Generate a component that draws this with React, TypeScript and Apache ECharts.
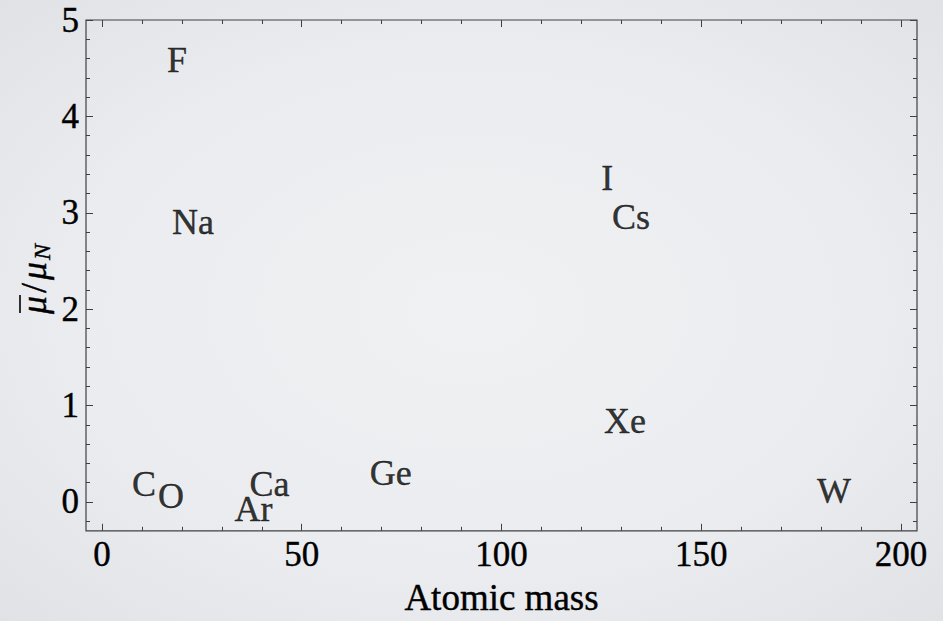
import React, { useEffect, useRef } from "react";
import * as echarts from "echarts";

const elements = ["C", "O", "F", "Na", "Ar", "Ca", "Ge", "I", "Xe", "Cs", "W"];
const atomicMass = [10.5, 17.3, 18.8, 22.8, 37.9, 41.9, 72.3, 126.5, 130.9, 132.4, 183.2];
const muBar = [0.19, 0.06, 4.58, 2.9, -0.07, 0.19, 0.3, 3.36, 0.84, 2.96, 0.11];

const xMajorTicks = [0, 50, 100, 150, 200];
const xMinorTicks = [10, 20, 30, 40, 60, 70, 80, 90, 110, 120, 130, 140, 160, 170, 180, 190];
const yMajorTicks = [0, 1, 2, 3, 4, 5];
const yMinorTicks = [-0.2, 0.2, 0.4, 0.6, 0.8, 1.2, 1.4, 1.6, 1.8, 2.2, 2.4, 2.6, 2.8, 3.2, 3.4, 3.6, 3.8, 4.2, 4.4, 4.6, 4.8];

const X_MIN = -4;
const X_MAX = 204;
const Y_MIN = -0.3;
const Y_MAX = 5;

const FONT = "Liberation Serif, Times New Roman, serif";
const TICK_COLOR = "#404040";
const TEXT_COLOR = "#000";
const TEXT_BORDER = { textBorderColor: "#000", textBorderWidth: 0.4 };

function makeAxis(kind: "x" | "y", position: string, values: number[], major: boolean, labels: boolean) {
  return {
    type: "value",
    position,
    min: kind === "x" ? X_MIN : Y_MIN,
    max: kind === "x" ? X_MAX : Y_MAX,
    axisLine: { show: false, onZero: false },
    splitLine: { show: false },
    axisTick: {
      show: true,
      inside: true,
      length: major ? 7 : 4,
      customValues: values,
      lineStyle: { color: TICK_COLOR, width: 1 },
    },
    axisLabel: labels
      ? {
          show: true,
          customValues: values,
          fontFamily: FONT,
          fontSize: 35,
          color: TEXT_COLOR,
          ...TEXT_BORDER,
          margin: kind === "x" ? 6 : 7,
        }
      : { show: false },
  };
}

export default function App() {
  const ref = useRef<HTMLDivElement>(null);

  useEffect(() => {
    if (!ref.current) return;
    const chart = echarts.init(ref.current, undefined, { renderer: "svg" });
    const data = elements.map((name, i) => ({ name, value: [atomicMass[i], muBar[i]] }));
    const txt = (text: string, x: number, y: number, font: string) => ({
      type: "text",
      x,
      y,
      style: {
        text,
        font,
        fill: TEXT_COLOR,
        stroke: "#000",
        lineWidth: 0.4,
        textAlign: "left",
        textVerticalAlign: "middle",
      },
    });
    chart.setOption({
      animation: false,
      grid: {
        left: 86,
        top: 20,
        right: 26,
        bottom: 88,
        show: true,
        borderColor: "#404040",
        borderWidth: 1.2,
        backgroundColor: "transparent",
      },
      xAxis: [
        {
          ...makeAxis("x", "bottom", xMajorTicks, true, true),
          name: "Atomic mass",
          nameLocation: "middle",
          nameGap: 48,
          nameTextStyle: { fontFamily: FONT, fontSize: 37, color: TEXT_COLOR, ...TEXT_BORDER },
        },
        makeAxis("x", "bottom", xMinorTicks, false, false),
        makeAxis("x", "top", xMajorTicks, true, false),
        makeAxis("x", "top", xMinorTicks, false, false),
      ],
      yAxis: [
        makeAxis("y", "left", yMajorTicks, true, true),
        makeAxis("y", "left", yMinorTicks, false, false),
        makeAxis("y", "right", yMajorTicks, true, false),
        makeAxis("y", "right", yMinorTicks, false, false),
      ],
      graphic: [
        {
          type: "group",
          x: 34,
          y: 274,
          rotation: Math.PI / 2,
          children: [
            txt("μ", -40, 0, `italic 36px ${FONT}`),
            {
              type: "line",
              shape: { x1: -39, y1: -14, x2: -21, y2: -14 },
              style: { stroke: TEXT_COLOR, lineWidth: 1.6 },
            },
            txt("/", -19, 0, `36px ${FONT}`),
            txt("μ", -6, 0, `italic 36px ${FONT}`),
            txt("N", 14, 8, `italic 24px ${FONT}`),
          ],
        },
      ],
      series: [
        {
          type: "scatter",
          xAxisIndex: 0,
          yAxisIndex: 0,
          data,
          symbol: "circle",
          symbolSize: 1,
          itemStyle: { color: "rgba(0,0,0,0)" },
          label: {
            show: true,
            position: "inside",
            formatter: (p: any) => p.name,
            fontFamily: FONT,
            fontSize: 36,
            color: TEXT_COLOR,
            ...TEXT_BORDER,
          },
          emphasis: { disabled: true },
        },
      ],
    });
    return () => chart.dispose();
  }, []);

  return (
    <div
      style={{
        position: "absolute",
        left: 0,
        top: 0,
        width: 943,
        height: 621,
        background: "radial-gradient(ellipse at center, #eff1f3 0%, #eaecef 60%, #e0e2e5 100%)",
      }}
    >
      <div ref={ref} style={{ width: 943, height: 621 }} />
    </div>
  );
}
